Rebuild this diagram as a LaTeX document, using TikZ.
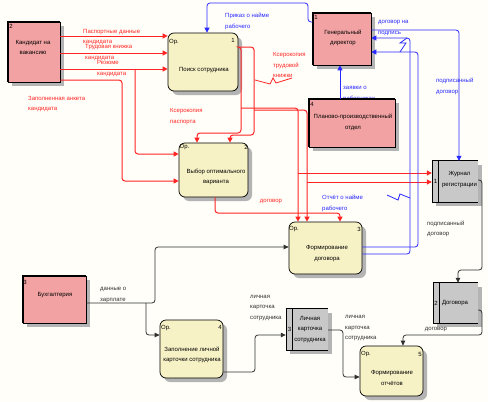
\documentclass[tikz,border=0pt]{standalone}
\usepackage{fontspec}
\setmainfont{Liberation Sans}
\usetikzlibrary{arrows.meta,patterns,shadows}
\definecolor{bgc}{HTML}{FFFEF8}
\definecolor{entc}{HTML}{F2A2A2}
\definecolor{procc}{HTML}{F7F2C6}
\definecolor{storec}{HTML}{C8C8C8}
\definecolor{cRed}{HTML}{FF2424}
\definecolor{cBlue}{HTML}{2828FF}
\definecolor{cBlack}{HTML}{303030}
\definecolor{shadc}{HTML}{B4B4B4}
\tikzset{
  every node/.style={font=\fontsize{6}{10.5}\selectfont, inner sep=0pt},
  boxshadow/.style={general shadow={fill=shadc, shadow xshift=4pt, shadow yshift=-4pt}},
  ent/.style={draw=black, line width=0.6pt, fill=entc, boxshadow},
  proc/.style={draw=black, line width=0.7pt, fill=procc, rounded corners=6pt, boxshadow},
  store/.style={fill=storec, boxshadow},
  lbl/.style={align=left, anchor=west},
  ctext/.style={align=center},
  redarrow/.style={draw=cRed, line width=1pt, rounded corners=3pt, -{Triangle[length=5pt,width=5pt]}},
  bluearrow/.style={draw=cBlue, line width=0.8pt, rounded corners=3pt, -{Triangle[length=5pt,width=5pt]}},
  blackarrow/.style={draw=cBlack, line width=0.8pt, rounded corners=3pt, -{Triangle[length=5pt,width=4.5pt]}},
  squig/.style={line width=0.8pt},
}
\begin{document}
\begin{tikzpicture}[x=1pt,y=-1pt]
\useasboundingbox (0,0) rectangle (488,402);
\fill[bgc] (0,0) rectangle (488,402);

% label partly hidden under the box
\node[lbl, text=cBlue] (lzayav) at (343,94) {заявки о\\работниках};

% ---------- boxes ----------
\node[ent, minimum width=52pt, minimum height=60pt] (kand) at (34,52) {};
\node[proc, minimum width=70pt, minimum height=58pt] (p1) at (203,62) {};
\node[ent, minimum width=58pt, minimum height=52pt] (gd) at (342,39) {};
\node[ent, minimum width=86pt, minimum height=48pt] (ppo) at (352,123) {};
\node[proc, minimum width=69pt, minimum height=54pt] (p2) at (213.5,170) {};
\node[store, minimum width=46pt, minimum height=41pt] (jr) at (455,181.5) {};
\node[proc, minimum width=73pt, minimum height=52pt] (p3) at (325.5,248) {};
\node[ent, minimum width=63pt, minimum height=47pt] (buh) at (54.5,299.5) {};
\node[proc, minimum width=63pt, minimum height=58pt] (p4) at (191.5,349) {};
\node[store, minimum width=42pt, minimum height=41pt] (lk) at (307,329.5) {};
\node[store, minimum width=45pt, minimum height=40pt] (dg) at (455.5,303) {};
\node[proc, minimum width=63pt, minimum height=50pt] (p5) at (391.5,371) {};

% thick entity borders
\foreach \e in {kand,gd,ppo,buh}{
  \draw[line width=2.2pt] (\e.south west) -- (\e.north west) -- (\e.north east);
}
% store borders
\foreach \s in {jr,lk,dg}{
  \draw[line width=1.1pt] (\s.north west) -- (\s.north east);
  \draw[line width=0.6pt] (\s.north west) -- (\s.south west) -- (\s.south east);
  \draw[line width=0.6pt] ([xshift=6.5pt]\s.north west) -- ([xshift=6.5pt]\s.south west);
}

% ---------- box texts ----------
\node (kandn) at (11,26) {2};
\node[ctext] (kandt) at (33,47.5) {Кандидат на\\вакансию};
\node (p1o) at (174,42) {Ор.};
\node (p1n) at (233,40) {1};
\node[ctext] (p1t) at (204,70) {Поиск сотрудника};
\node (gdn) at (316,17) {1};
\node[ctext] (gdt) at (343,38) {Генеральный\\директор};
\node (ppon) at (312,104) {4};
\node[ctext] (ppot) at (353,122.5) {Планово-производственный\\отдел};
\node (p2o) at (184.5,147) {Ор.};
\node (p2n) at (246,147) {2};
\node[ctext] (p2t) at (216,177) {Выбор оптимального\\варианта};
\node (jrn) at (435.5,181) {1};
\node[ctext] (jrt) at (459.5,179.5) {Журнал\\регистрации};
\node (p3o) at (294,229) {Ор.};
\node (p3n) at (359,229) {3};
\node[ctext] (p3t) at (327,253.5) {Формирование\\договора};
\node (buhn) at (25,282) {3};
\node[ctext] (buht) at (55,295) {Бухгалтерия};
\node (p4o) at (166,328) {Ор.};
\node (p4n) at (220,327) {4};
\node[ctext] (p4t) at (192,355) {Заполнение личной\\карточки сотрудника};
\node (lkn) at (289.5,329) {3};
\node[ctext] (lkt) at (310,329.5) {Личная\\карточка\\сотрудника};
\node (dgn) at (436,303) {2};
\node[ctext] (dgt) at (455,303) {Договора};
\node (p5o) at (366,354) {Ор.};
\node (p5n) at (420,354) {5};
\node[ctext] (p5t) at (392,378) {Формирование\\отчётов};

% ---------- named branch points ----------
\coordinate (rz) at (135,69);
\coordinate (ka) at (254,110);
\coordinate (kb) at (241,108);
\coordinate (kc) at (298,173);
\coordinate (kd) at (307,182);
\coordinate (bz) at (146,303);

% ---------- red connectors ----------
\draw[redarrow] (kand.east |- 0,36) -- (p1.west |- 0,36);
\draw[redarrow] (kand.east |- 0,53) -- (p1.west |- 0,53);
\draw[redarrow] (kand.east |- 0,69) -- (p1.west |- 0,69);
\draw[redarrow] (rz) -- (135,154) -- (p2.west |- 0,154);
\draw[redarrow] (kand.east |- 0,80) -- (122,80) -- (122,181) -- (p2.west |- 0,181);
\draw[redarrow] (p1.east |- 0,47) -- (254,47) -- (254,135) -- (230,135) -- (p2.north -| 230,0);
\draw[redarrow] (p1.east |- 0,47) -- (241,47) -- (241,133) -- (197,133) -- (p2.north -| 197,0);
\draw[redarrow] (kb) -- (298,108) -- (p3.north -| 298,0);
\draw[redarrow] (ka) -- (307,110) -- (p3.north -| 307,0);
\draw[redarrow] (kc) -- (jr.west |- 0,173);
\draw[redarrow] (kd) -- (jr.west |- 0,182);
\draw[redarrow] (p2.south -| 215,0) -- (215,213) -- (340,213) -- (p3.north -| 340,0);

% ---------- blue connectors ----------
\draw[bluearrow] (gd.west |- 0,22) -- (308,22) -- (308,3) -- (207,3) -- (p1.north -| 207,0);
\draw[bluearrow] (ppo.north -| 340,0) -- (gd.south -| 340,0);
\draw[bluearrow] (gd.east |- 0,30) -- (459,30) -- (jr.north -| 459,0);
\draw[bluearrow] (p3.east |- 0,247) -- (418,247) -- (418,52) -- (gd.east |- 0,52);
\draw[bluearrow] (p3.east |- 0,254) -- (410,254) -- (410,38) -- (gd.east |- 0,38);

% ---------- black connectors ----------
\draw[blackarrow] (buh.east |- 0,303) -- (155,303) -- (155,247) -- (p3.west |- 0,247);
\draw[blackarrow] (bz) -- (146,335) -- (p4.west |- 0,335);
\draw[blackarrow] (p4.east |- 0,372) -- (255,372) -- (255,335) -- (lk.west |- 0,335);
\draw[blackarrow] (lk.east |- 0,330) -- (343,330) -- (343,377) -- (p5.west |- 0,377);
\draw[blackarrow] (jr.east |- 0,180) -- (482,180) -- (482,270) -- (458,270) -- (dg.north -| 458,0);
\draw[blackarrow] (dg.east |- 0,310) -- (482,310) -- (482,335) -- (403,335) -- (p5.north -| 403,0);

% ---------- squiggles ----------
\draw[squig, cRed] (255,80) -- (270,84) -- (273,78) -- (276,83) -- (292,78);
\draw[squig, cBlue] (407,38) -- (400,43) -- (406,43) -- (400,52);
\draw[squig, cBlue] (387,195) -- (398,200) -- (400,194) -- (410,198);

% ---------- labels ----------
\node[lbl, text=cRed] (l1) at (83,37) {Паспортные данные\\кандидата};
\node[lbl, text=cRed] (l2) at (85,52.5) {Трудовая книжка\\кандидата};
\node[lbl, text=cRed] (l3) at (97,68.5) {Резюме\\кандидата};
\node[lbl, text=cRed] (l4) at (28,104) {Заполненная анкета\\кандидата};
\node[lbl, text=cBlue] (l5) at (225,21.5) {Приказ о найме\\рабочего};
\node[lbl, text=cRed] (l6) at (273,65) {Ксерокопия\\трудовой\\книжки};
\node[lbl, text=cRed] (l7) at (170,116.5) {Ксерокопия\\паспорта};
\node[lbl, text=cBlue] (l8) at (378,28) {договор на\\подпись};
\node[lbl, text=cBlue] (l9) at (436,86.5) {подписанный\\договор};
\node[lbl, text=cBlue] (l10) at (322,203.5) {Отчёт о найме\\рабочего};
\node[text=cRed] (l11) at (271,202) {договор};
\node[lbl, text=cBlack] (l12) at (427,229) {подписанный\\договор};
\node[lbl, text=cBlack] (l13) at (100,295) {данные о\\зарплате};
\node[lbl, text=cBlack] (l14) at (250,308) {личная\\карточка\\сотрудника};
\node[lbl, text=cBlack] (l15) at (345,328.5) {личная\\карточка\\сотрудника};
\node[text=cBlack] (l16) at (436,330) {договор};
\end{tikzpicture}
\end{document}
